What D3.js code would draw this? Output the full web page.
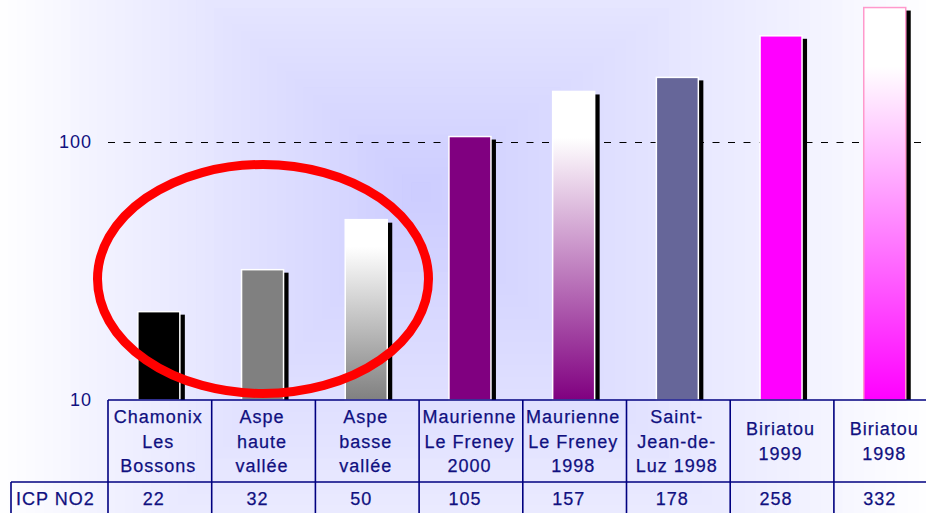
<!DOCTYPE html>
<html>
<head>
<meta charset="utf-8">
<script src="https://cdn.jsdelivr.net/npm/d3@7"></script>
<style>
  body { margin: 0; padding: 0; overflow: hidden; background: #fff; }
  svg { display: block; font-family: "Liberation Sans", Arial, Helvetica, sans-serif; }
</style>
</head>
<body>
<script>
// data
var categories = [
  'Chamonix\nLes\nBossons',
  'Aspe\nhaute\nvallée',
  'Aspe\nbasse\nvallée',
  'Maurienne\nLe Freney\n2000',
  'Maurienne\nLe Freney\n1998',
  'Saint-\nJean-de-\nLuz 1998',
  'Biriatou\n1999',
  'Biriatou\n1998'
];
var values = [22, 32, 50, 105, 157, 178, 258, 332];
var rowLabel = 'ICP NO2';
var yTicks = [10, 100];

// styles
var barFills = ['#000000', '#808080', '#808080', '#800080', '#800080', '#666699', '#ff00ff', '#ff00ff'];
var barFaded = [false, false, true, false, true, false, false, true];
var barStrokes = ['#ffffff', '#ffffff', '#ffffff', '#ffffff', '#ffffff', '#ffffff', '#ffffff', '#ff99cc'];

var width = 926;
var height = 513;
var plotBottom = 400;
var plotLeft = 108;
var colStep = 103.7;
var barWidth = 42;
var headerBottom = 482;
var tableLeft = 11;
var ink = '#101080';

var svg = d3.select('body').append('svg')
  .attr('width', width)
  .attr('height', height);

var defs = svg.append('defs');

// background: rectangular "from centre" gradient, drawn as nested rects
var drawBackground = function() {
  var cx = 420, cy = 190;
  var wl = 430, wr = 520, ht = 380, hb = 560;
  var shade = d3.interpolateRgb('#ccccff', '#ffffff');
  svg.append('rect')
    .attr('width', width)
    .attr('height', height)
    .style('fill', '#ffffff');
  var steps = 48;
  for(var i = steps; i >= 0; i--) {
    var s = i / steps;
    svg.append('rect')
      .attr('x', cx - wl * s)
      .attr('y', cy - ht * s)
      .attr('width', (wl + wr) * s)
      .attr('height', (ht + hb) * s)
      .style('fill', shade(s));
  }
};

drawBackground();

var x = d3.scaleBand()
  .domain(d3.range(categories.length))
  .range([plotLeft, plotLeft + colStep * categories.length]);

var y = d3.scaleLog()
  .domain([10, 100])
  .range([plotBottom, 142]);

// gridline at 100
svg.selectAll('line.grid')
  .data(yTicks.filter(function(t) { return t > 10; }))
  .enter().append('line')
  .attr('class', 'grid')
  .attr('x1', plotLeft)
  .attr('x2', width)
  .attr('y1', function(d) { return Math.round(y(d)) + 0.5; })
  .attr('y2', function(d) { return Math.round(y(d)) + 0.5; })
  .style('stroke', '#000')
  .style('stroke-width', 1)
  .style('stroke-dasharray', '7,8.5');

// y labels
var axis = svg.append('g')
  .attr('transform', 'translate(' + plotLeft + ',0)')
  .call(d3.axisLeft(y).tickValues(yTicks).tickFormat(d3.format('d')).tickSize(0).tickPadding(16));
axis.select('.domain').remove();
axis.selectAll('text')
  .style('font-family', '"Liberation Sans", Arial, sans-serif')
  .style('font-size', '18px')
  .style('letter-spacing', '1px')
  .style('fill', ink);

// gradients for the faded bars
values.forEach(function(v, i) {
  if(!barFaded[i]) { return; }
  var g = defs.append('linearGradient')
    .attr('id', 'fade' + i)
    .attr('x1', 0).attr('y1', 0).attr('x2', 0).attr('y2', 1);
  g.append('stop').attr('offset', 0).style('stop-color', '#ffffff');
  g.append('stop').attr('offset', 0.15).style('stop-color', '#ffffff');
  g.append('stop').attr('offset', 1).style('stop-color', barFills[i]);
});

var barX = function(i) {
  return x(i) + (x.bandwidth() - barWidth) / 2 - 1;
};

// shadows
svg.selectAll('rect.shadow')
  .data(values)
  .enter().append('rect')
  .attr('class', 'shadow')
  .attr('x', function(d, i) { return barX(i) + 5; })
  .attr('y', function(d) { return y(d) + 3; })
  .attr('width', barWidth)
  .attr('height', function(d) { return plotBottom - y(d) - 3; })
  .style('fill', '#000');

// bars
svg.selectAll('rect.bar')
  .data(values)
  .enter().append('rect')
  .attr('class', 'bar')
  .attr('x', function(d, i) { return barX(i); })
  .attr('y', function(d) { return y(d); })
  .attr('width', barWidth)
  .attr('height', function(d) { return plotBottom - y(d); })
  .style('fill', function(d, i) { return barFaded[i] ? 'url(#fade' + i + ')' : barFills[i]; })
  .style('stroke', function(d, i) { return barStrokes[i]; })
  .style('stroke-width', 1.5);

// data table
var table = svg.append('g');
var lineStyle = function(sel) {
  sel.style('stroke', '#000080').style('stroke-width', 1.6);
};
table.append('line')
  .attr('x1', plotLeft).attr('x2', width)
  .attr('y1', plotBottom).attr('y2', plotBottom)
  .call(lineStyle);
table.append('line')
  .attr('x1', tableLeft).attr('x2', width)
  .attr('y1', headerBottom).attr('y2', headerBottom)
  .call(lineStyle);
table.append('line')
  .attr('x1', tableLeft).attr('x2', tableLeft)
  .attr('y1', headerBottom).attr('y2', height)
  .call(lineStyle);
table.selectAll('line.col')
  .data(categories)
  .enter().append('line')
  .attr('class', 'col')
  .attr('x1', function(d, i) { return x(i); })
  .attr('x2', function(d, i) { return x(i); })
  .attr('y1', plotBottom)
  .attr('y2', height)
  .call(lineStyle);

var textStyle = function(sel) {
  sel.style('font-size', '18px')
    .style('letter-spacing', '1px')
    .style('fill', ink)
    .style('stroke', ink)
    .style('stroke-width', 0.25);
};

var headerMid = (plotBottom + headerBottom) / 2;
var lineGap = 24.5;
table.selectAll('text.cat')
  .data(categories)
  .enter().append('text')
  .attr('class', 'cat')
  .attr('text-anchor', 'middle')
  .call(textStyle)
  .each(function(d, i) {
    var lines = d.split('\n');
    var first = headerMid - (lines.length - 1) * lineGap / 2;
    var t = d3.select(this);
    lines.forEach(function(line, k) {
      t.append('tspan')
        .attr('x', x(i) + x.bandwidth() / 2 - 1.5)
        .attr('y', first + k * lineGap + 6.5)
        .text(line);
    });
  });

table.selectAll('text.val')
  .data(values)
  .enter().append('text')
  .attr('class', 'val')
  .attr('text-anchor', 'middle')
  .attr('x', function(d, i) { return x(i) + x.bandwidth() / 2 - 6; })
  .attr('y', 504.5)
  .text(function(d) { return d; })
  .call(textStyle);

table.append('text')
  .attr('x', 16)
  .attr('y', 504.5)
  .text(rowLabel)
  .call(textStyle);

// red highlight ellipse
svg.append('ellipse')
  .attr('cx', 263)
  .attr('cy', 279)
  .attr('rx', 165.5)
  .attr('ry', 114.5)
  .style('fill', 'none')
  .style('stroke', '#ff0000')
  .style('stroke-width', 9);
</script>
</body>
</html>
